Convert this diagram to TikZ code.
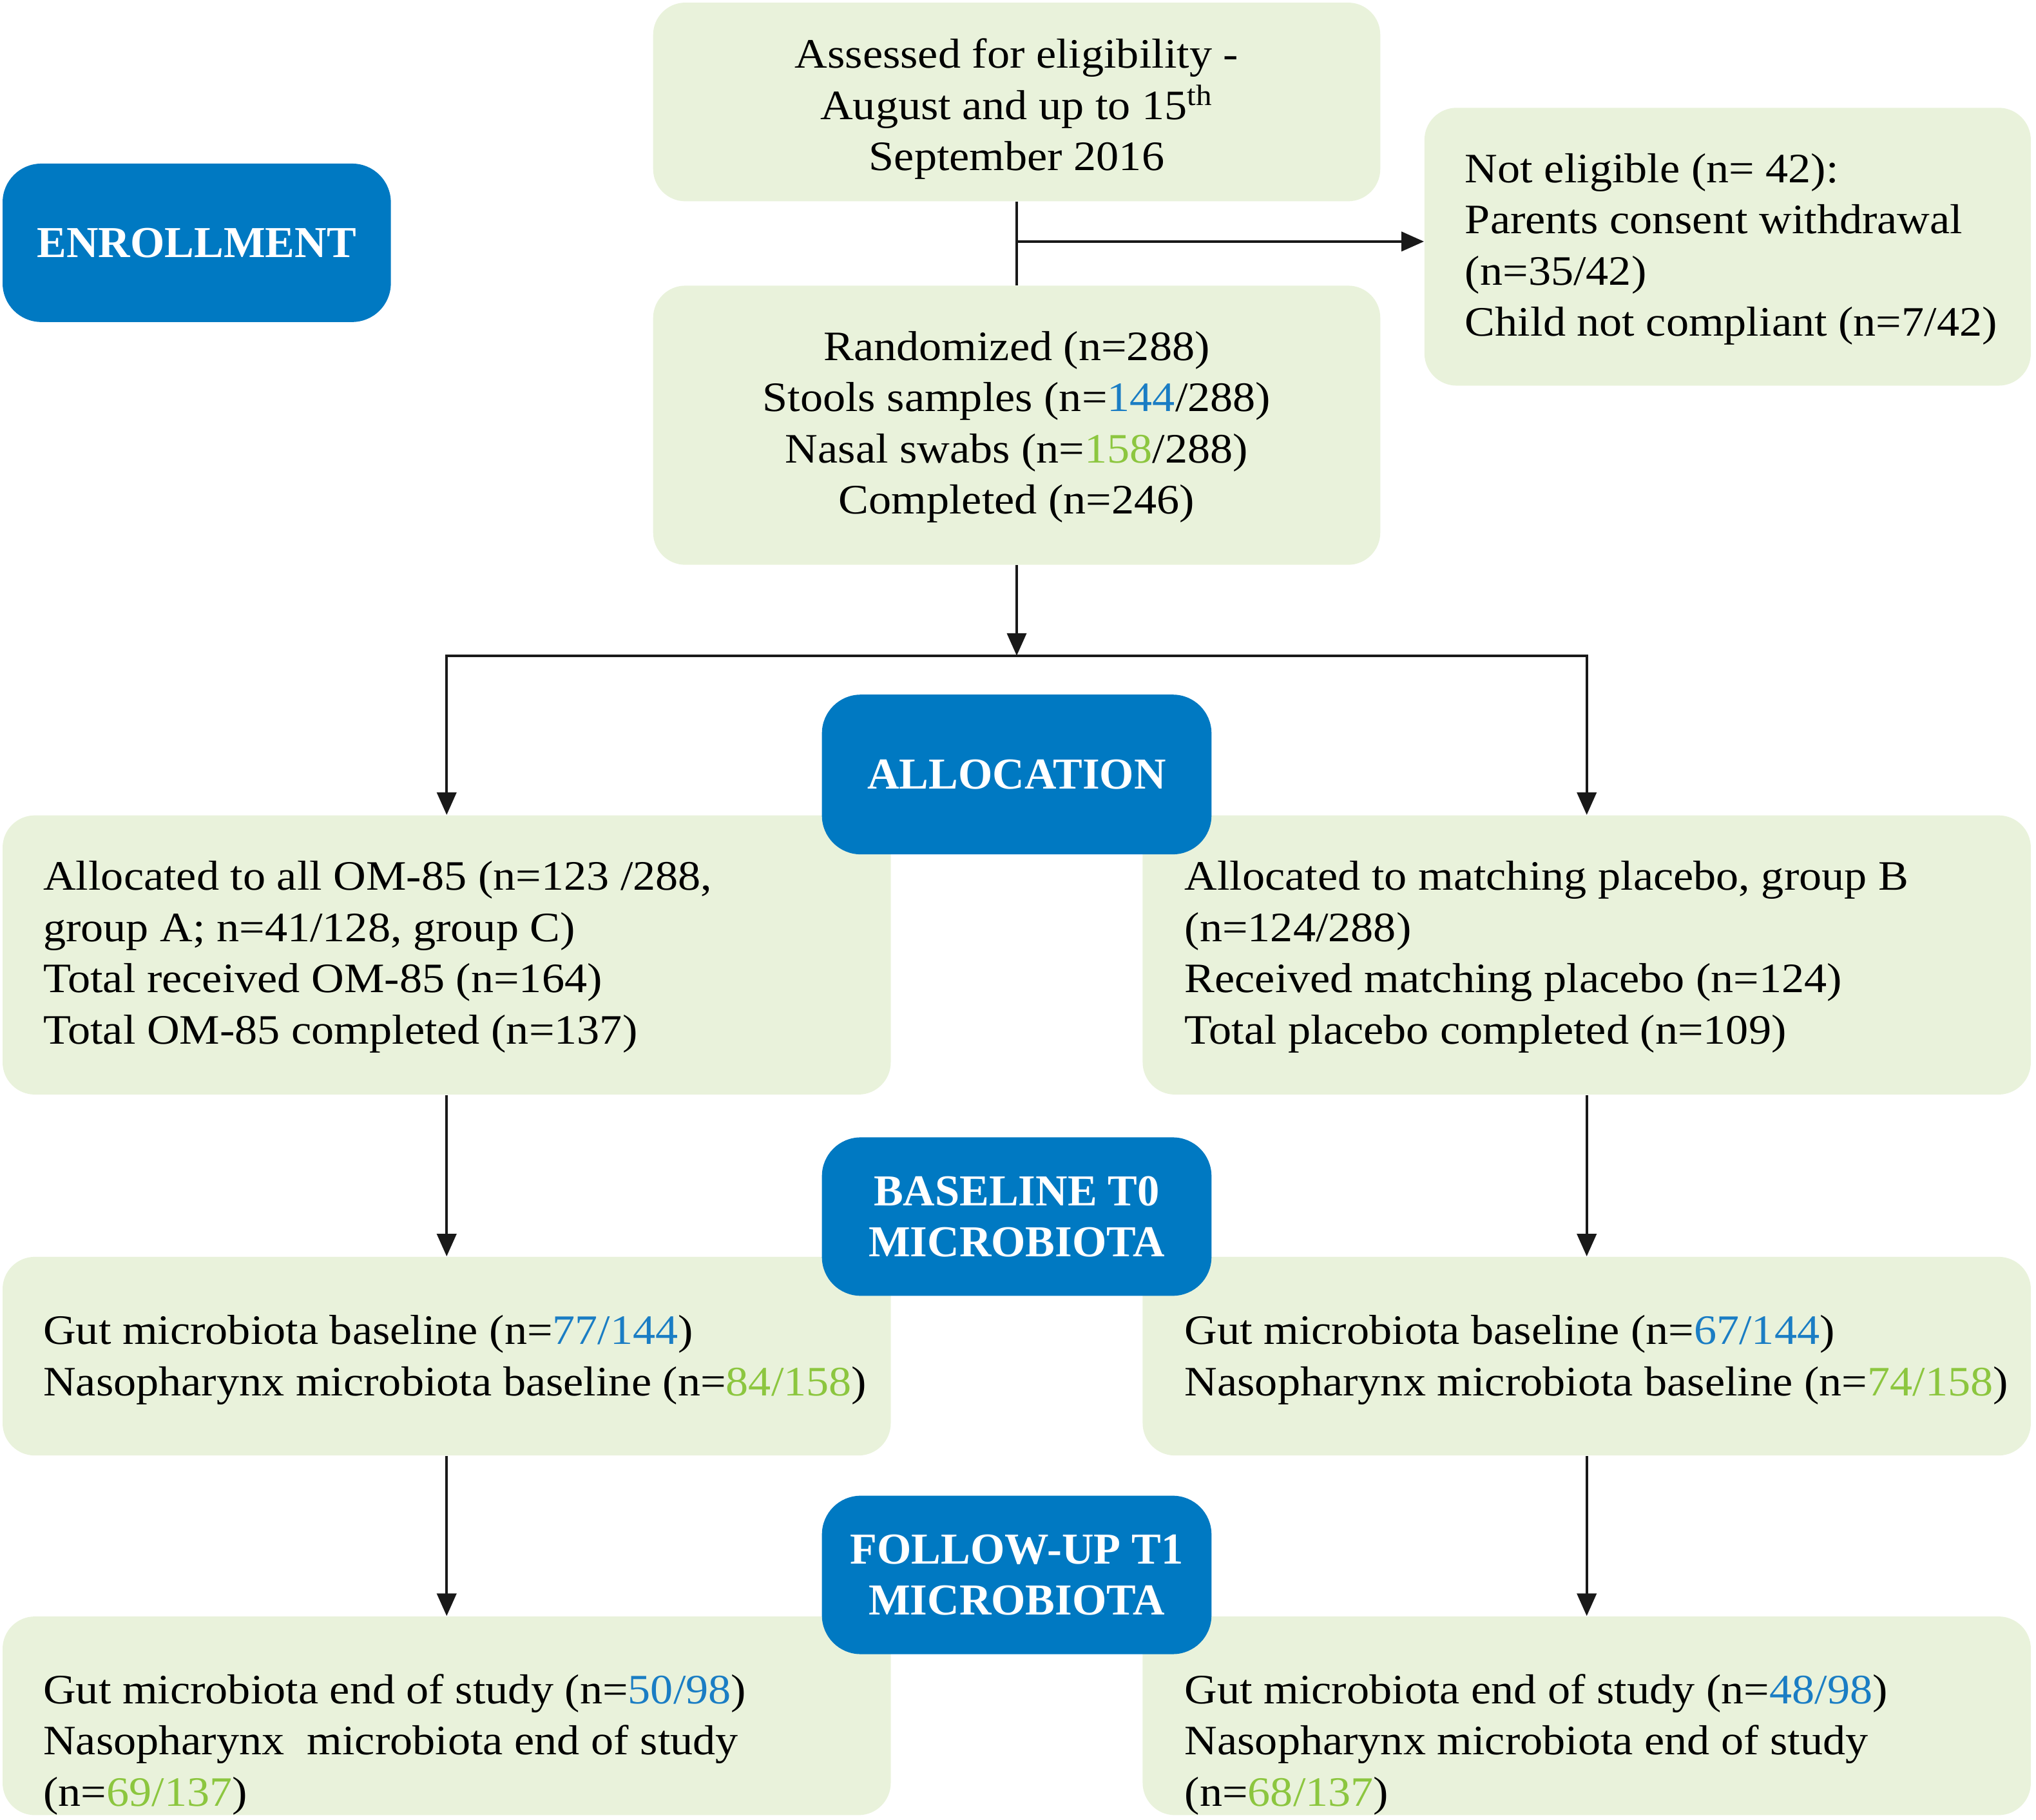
\documentclass[tikz,border=0pt]{standalone}
\usepackage{fontspec}
\setmainfont[FakeStretch=1.08]{Liberation Serif}
\newfontfamily\hdrfont{Liberation Serif}
\usetikzlibrary{arrows.meta,fit}
\definecolor{boxgreen}{HTML}{E9F2DB}
\definecolor{hdrblue}{HTML}{0079C2}
\definecolor{numblue}{HTML}{1A7DC4}
\definecolor{numgreen}{HTML}{8CC63F}
\newcommand{\Bn}[1]{\textcolor{numblue}{#1}}
\newcommand{\Gn}[1]{\textcolor{numgreen}{#1}}
\tikzset{
  gbox/.style={fill=boxgreen, draw=none, rounded corners=5mm, inner sep=0pt},
  hbox/.style={fill=hdrblue, draw=none, rounded corners=6mm, inner sep=0pt},
  txt/.style={inner sep=0pt, font=\fontsize{18.5}{22.6}\selectfont, text=black},
  htxt/.style={inner sep=0pt, font=\hdrfont\fontsize{19.5}{22.6}\selectfont\bfseries, text=white, align=center},
  conn/.style={line width=1.2pt, black!90},
  arr/.style={conn, -{Triangle[length=3.5mm, width=3mm]}}
}
\begin{document}
\begin{tikzpicture}[x=0.2015mm, y=-0.2015mm]
\useasboundingbox (0,0) rectangle (1568,1401.5);
% green boxes
\node[gbox, fit={(503,2) (1063,155)}] (assess) {};
\node[gbox, fit={(1097,83) (1564,297)}] (noteli) {};
\node[gbox, fit={(503,220) (1063,435)}] (random) {};
\node[gbox, fit={(2,628) (686,843)}] (allocL) {};
\node[gbox, fit={(880,628) (1564,843)}] (allocR) {};
\node[gbox, fit={(2,968) (686,1121)}] (baseL) {};
\node[gbox, fit={(880,968) (1564,1121)}] (baseR) {};
\node[gbox, fit={(2,1245) (686,1398)}] (endL) {};
\node[gbox, fit={(880,1245) (1564,1398)}] (endR) {};
% blue header boxes
\node[hbox, fit={(2,126) (301,248)}] (enroll) {};
\node[hbox, fit={(633,535) (933,658)}] (alloc) {};
\node[hbox, fit={(633,876) (933,998)}] (base) {};
\node[hbox, fit={(633,1152) (933,1274)}] (follow) {};
% header texts
\node[htxt] (enrollT) at (enroll.center) {ENROLLMENT};
\node[htxt] (allocT) at (alloc.center) {ALLOCATION};
\node[htxt] (baseT) at (base.center) {BASELINE T0\\MICROBIOTA};
\node[htxt] (followT) at (follow.center) {FOLLOW-UP T1\\MICROBIOTA};
% box texts
\node[txt, align=center] (assessT) at (783,84) {Assessed for eligibility -\\August and up to 15\textsuperscript{th}\\September 2016};
\node[txt, align=left, anchor=west] (noteliT) at (1128,192) {Not eligible (n= 42):\\Parents consent withdrawal\\(n=35/42)\\Child not compliant (n=7/42)};
\node[txt, align=center] (randomT) at (783,329) {Randomized (n=288)\\Stools samples (n=\Bn{144}/288)\\Nasal swabs (n=\Gn{158}/288)\\Completed (n=246)};
\node[txt, align=left, anchor=west] (allocLT) at (33,737) {Allocated to all OM-85 (n=123 /288,\\group A; n=41/128, group C)\\Total received OM-85 (n=164)\\Total OM-85 completed (n=137)};
\node[txt, align=left, anchor=west] (allocRT) at (912,737) {Allocated to matching placebo, group B\\(n=124/288)\\Received matching placebo (n=124)\\Total placebo completed (n=109)};
\node[txt, align=left, anchor=west] (baseLT) at (33,1047.5) {Gut microbiota baseline (n=\Bn{77/144})\\Nasopharynx microbiota baseline (n=\Gn{84/158})};
\node[txt, align=left, anchor=west] (baseRT) at (912,1047.5) {Gut microbiota baseline (n=\Bn{67/144})\\Nasopharynx microbiota baseline (n=\Gn{74/158})};
\node[txt, align=left, anchor=west] (endLT) at (33,1343.5) {Gut microbiota end of study (n=\Bn{50/98})\\Nasopharynx\ \ microbiota end of study\\(n=\Gn{69/137})};
\node[txt, align=left, anchor=west] (endRT) at (912,1343.5) {Gut microbiota end of study (n=\Bn{48/98})\\Nasopharynx microbiota end of study\\(n=\Gn{68/137})};
% connectors
\coordinate (j1) at (783,186);
\coordinate (j2) at (783,505);
\draw[conn] (assess.south) -- (random.north);
\draw[arr] (j1) -- (j1 -| noteli.west);
\draw[arr] (random.south) -- (j2);
\draw[arr] (j2) -| (allocL.north);
\draw[arr] (j2) -| (allocR.north);
\draw[arr] (allocL.south) -- (baseL.north);
\draw[arr] (allocR.south) -- (baseR.north);
\draw[arr] (baseL.south) -- (endL.north);
\draw[arr] (baseR.south) -- (endR.north);
\end{tikzpicture}
\end{document}
